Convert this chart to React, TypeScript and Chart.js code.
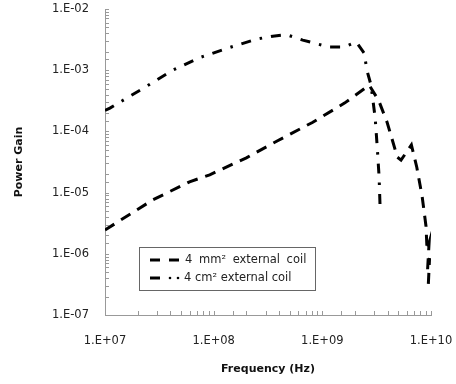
import React, { useEffect, useRef } from 'react';
import { Chart, registerables } from 'chart.js';
Chart.register(...registerables);

// 4 mm² external coil (dashed)
const freq4mm = [1.0e7, 2.75e7, 6.0e7, 9.2e7, 2.0e8, 3.8e8, 8.1e8, 1.6e9, 2.7e9, 3.3e9, 3.95e9, 4.9e9, 5.3e9, 6.6e9, 7.4e9, 8.3e9, 9.0e9, 9.2e9, 9.6e9, 9.3e9, 9.7e9, 9.4e9];
const gain4mm = [2.45e-6, 7.6e-6, 1.5e-5, 1.95e-5, 3.7e-5, 6.9e-5, 1.4e-4, 2.9e-4, 5.7e-4, 3.2e-4, 1.4e-4, 3.8e-5, 3.4e-5, 6.0e-5, 2.6e-5, 8.5e-6, 2.8e-6, 1.15e-6, 1.5e-6, 5.5e-7, 8.5e-7, 2.6e-7];

// 4 cm² external coil (dash-dot)
const freq4cm = [1.0e7, 1.11e7, 2.43e7, 4.2e7, 7.4e7, 1.35e8, 2.45e8, 3.5e8, 4.7e8, 6.6e8, 1.15e9, 1.6e9, 2.05e9, 2.43e9, 2.57e9, 2.8e9, 3.06e9, 3.2e9, 3.33e9, 3.4e9];
const gain4cm = [2.2e-4, 2.4e-4, 5.5e-4, 1.0e-3, 1.6e-3, 2.3e-3, 3.2e-3, 3.6e-3, 3.8e-3, 3.1e-3, 2.4e-3, 2.4e-3, 2.9e-3, 1.9e-3, 1.0e-3, 5.8e-4, 1.7e-4, 5.6e-5, 1.8e-5, 5.8e-6];

const seriesNames = ['4 mm² external coil', '4 cm² external coil'];

const xTickValues = [1e7, 1e8, 1e9, 1e10];
const xTickLabels = ['1.E+07', '1.E+08', '1.E+09', '1.E+10'];
const yTickValues = [1e-7, 1e-6, 1e-5, 1e-4, 1e-3, 1e-2];
const yTickLabels = ['1.E-07', '1.E-06', '1.E-05', '1.E-04', '1.E-03', '1.E-02'];

const FONT = '"DejaVu Sans", Verdana, sans-serif';

function labelFor(v: number, values: number[], labels: string[]) {
  for (let i = 0; i < values.length; i++) {
    if (Math.abs(Math.log10(v) - Math.log10(values[i])) < 1e-6) return labels[i];
  }
  return '';
}

const innerTicks = {
  id: 'innerTicks',
  afterDraw(chart: any) {
    const ctx = chart.ctx;
    const ca = chart.chartArea;
    ctx.save();
    ctx.strokeStyle = '#999';
    ctx.lineWidth = 1;
    const xs = chart.scales.x;
    xs.ticks.forEach((t: any) => {
      const px = Math.round(xs.getPixelForValue(t.value)) + 0.5;
      ctx.beginPath();
      ctx.moveTo(px, ca.bottom);
      ctx.lineTo(px, ca.bottom - 4);
      ctx.stroke();
    });
    const ys = chart.scales.y;
    ys.ticks.forEach((t: any) => {
      const py = Math.round(ys.getPixelForValue(t.value)) + 0.5;
      ctx.beginPath();
      ctx.moveTo(ca.left, py);
      ctx.lineTo(ca.left + 4, py);
      ctx.stroke();
    });
    ctx.restore();
  },
};

const boxLegend = {
  id: 'boxLegend',
  afterDraw(chart: any) {
    const ctx = chart.ctx;
    const ca = chart.chartArea;
    const x0 = ca.left + 34;
    const y0 = ca.top + 238;
    const w = 176;
    const h = 43;
    ctx.save();
    ctx.fillStyle = '#fff';
    ctx.fillRect(x0, y0, w, h);
    ctx.strokeStyle = '#666';
    ctx.lineWidth = 1;
    ctx.strokeRect(x0 + 0.5, y0 + 0.5, w, h);
    ctx.strokeStyle = '#000';
    ctx.lineWidth = 3;
    const r1 = y0 + 13;
    const r2 = y0 + 31;
    ctx.beginPath();
    ctx.moveTo(x0 + 11, r1); ctx.lineTo(x0 + 21, r1);
    ctx.moveTo(x0 + 30, r1); ctx.lineTo(x0 + 40, r1);
    ctx.stroke();
    ctx.beginPath();
    ctx.moveTo(x0 + 11, r2); ctx.lineTo(x0 + 21, r2);
    ctx.stroke();
    ctx.fillStyle = '#000';
    ctx.beginPath(); ctx.arc(x0 + 31, r2, 1.3, 0, Math.PI * 2); ctx.fill();
    ctx.beginPath(); ctx.arc(x0 + 39, r2, 1.3, 0, Math.PI * 2); ctx.fill();
    ctx.font = '11.5px ' + FONT;
    ctx.textBaseline = 'middle';
    ctx.fillStyle = '#222';
    try { (ctx as any).wordSpacing = '3px'; } catch (e) {}
    ctx.fillText(seriesNames[0], x0 + 46, r1);
    try { (ctx as any).wordSpacing = '0px'; } catch (e) {}
    ctx.fillText(seriesNames[1], x0 + 45, r2);
    ctx.restore();
  },
};

export default function App() {
  const ref = useRef<HTMLCanvasElement>(null);
  useEffect(() => {
    document.body.style.margin = '0';
    const data4mm = freq4mm.map((f, i) => ({ x: f, y: gain4mm[i] }));
    const data4cm = freq4cm.map((f, i) => ({ x: f, y: gain4cm[i] }));
    const chart = new Chart(ref.current as HTMLCanvasElement, {
      type: 'line',
      data: {
        datasets: [
          {
            label: seriesNames[0],
            data: data4mm,
            borderColor: '#000',
            borderWidth: 3,
            borderDash: [11, 8],
            borderCapStyle: 'butt',
            pointRadius: 0,
            tension: 0,
            fill: false,
          },
          {
            label: seriesNames[1],
            data: data4cm,
            borderColor: '#000',
            borderWidth: 3,
            borderDash: [10, 9, 2.5, 9],
            borderCapStyle: 'butt',
            pointRadius: 0,
            tension: 0,
            fill: false,
          },
        ],
      },
      options: {
        animation: false,
        responsive: false,
        maintainAspectRatio: false,
        layout: { padding: { left: 0, right: 25, top: 9, bottom: 0 } },
        plugins: { legend: { display: false }, tooltip: { enabled: false } },
        scales: {
          x: {
            type: 'logarithmic',
            min: 1e7,
            max: 1e10,
            afterFit: (s: any) => { s.height = 69; s.paddingLeft = 0; s.paddingRight = 0; },
            grid: { display: false, drawTicks: false },
            border: { display: true, color: '#999', width: 1 },
            ticks: {
              autoSkip: false,
              maxRotation: 0,
              padding: 19,
              color: '#222',
              font: { family: FONT, size: 11.5 },
              callback: (v: any) => labelFor(Number(v), xTickValues, xTickLabels),
            },
            title: {
              display: true,
              text: 'Frequency (Hz)',
              color: '#111',
              font: { family: FONT, size: 11, weight: 'bold' },
              padding: { top: 0, bottom: 8 },
            },
          },
          y: {
            type: 'logarithmic',
            min: 1e-7,
            max: 1e-2,
            afterFit: (s: any) => { s.width = 105; s.paddingTop = 0; s.paddingBottom = 0; },
            grid: { display: false, drawTicks: false },
            border: { display: true, color: '#999', width: 1 },
            ticks: {
              autoSkip: false,
              padding: 16,
              color: '#222',
              font: { family: FONT, size: 11.5 },
              callback: (v: any) => labelFor(Number(v), yTickValues, yTickLabels),
            },
            title: {
              display: true,
              text: 'Power Gain',
              color: '#111',
              font: { family: FONT, size: 11, weight: 'bold' },
              padding: { top: 13, bottom: 0 },
            },
          },
        },
      },
      plugins: [innerTicks, boxLegend],
    } as any);
    return () => chart.destroy();
  }, []);
  return <canvas ref={ref} width={456} height={384} style={{ display: 'block' }} />;
}
